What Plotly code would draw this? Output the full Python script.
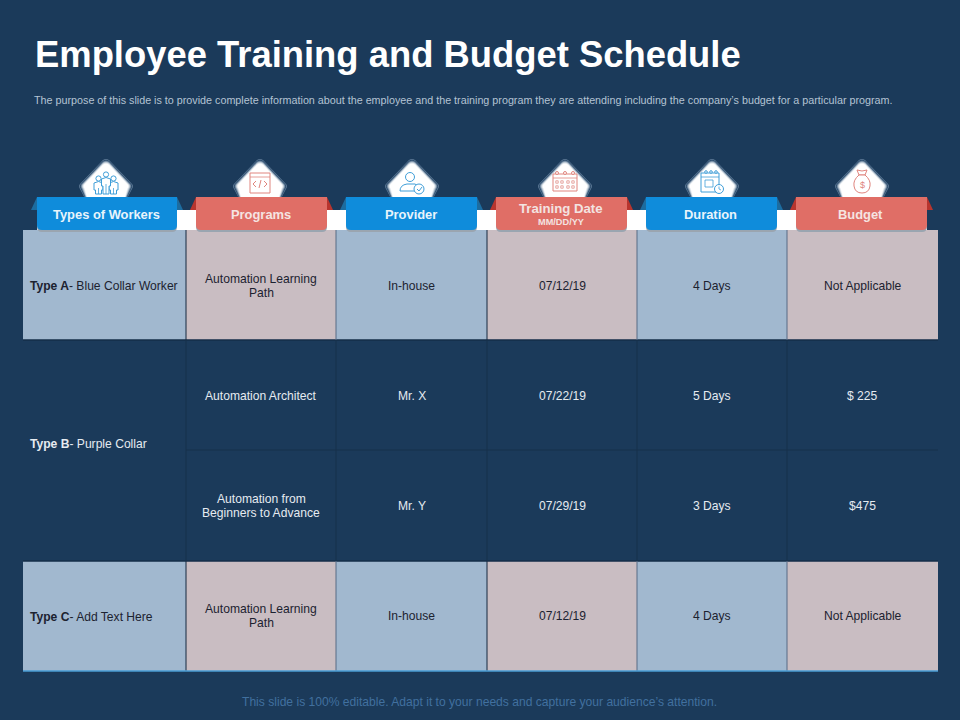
import plotly.graph_objects as go

title = "Employee Training and Budget Schedule"
subtitle = ("The purpose of this slide is to provide complete information about the employee and the training "
            "program they are attending including the company\u2019s budget for a particular program.")
footer = "This slide is 100% editable. Adapt it to your needs and capture your audience\u2019s attention."

headers = ["Types of Workers", "Programs", "Provider", "Training Date", "Duration", "Budget"]
header_sub = "MM/DD/YY"

workers = ["<b>Type A</b>- Blue Collar Worker", "<b>Type B</b>- Purple Collar", "<b>Type C</b>- Add Text Here"]
programs = ["Automation Learning<br>Path", "Automation Architect",
            "Automation from<br>Beginners to Advance", "Automation Learning<br>Path"]
providers = ["In-house", "Mr. X", "Mr. Y", "In-house"]
dates = ["07/12/19", "07/22/19", "07/29/19", "07/12/19"]
durations = ["4 Days", "5 Days", "3 Days", "4 Days"]
budgets = ["Not Applicable", "$ 225", "$475", "Not Applicable"]

BG = "#1b3a5a"
BLUE = "#0f8cdb"
RED = "#e06e66"
CELL_BLUE = "#a1b8cf"
CELL_PINK = "#c9bdc2"
LINE = "#16304b"
ICON_BLUE = "#3f9ed8"
ICON_RED = "#e0857e"

col_x = [23, 186, 336, 487, 637, 787, 938]
row_y = [230, 340, 450, 561, 671]
rib_x = [(37, 177), (196, 327), (346, 477), (496, 627), (646, 777), (796, 927)]
dia_x = [106, 260, 412, 565, 712, 862]

shapes = []
annotations = []


def rect(x0, y0, x1, y1, fill, line=None, width=0):
    shapes.append(dict(type="rect", x0=x0, y0=y0, x1=x1, y1=y1, fillcolor=fill,
                       line=dict(color=line or fill, width=width)))


def path(d, fill="rgba(0,0,0,0)", line="rgba(0,0,0,0)", width=1.0):
    shapes.append(dict(type="path", path=d, fillcolor=fill, line=dict(color=line, width=width)))


def seg(x0, y0, x1, y1, color=LINE, width=1.0):
    shapes.append(dict(type="line", x0=x0, y0=y0, x1=x1, y1=y1, line=dict(color=color, width=width)))


def circle(cx, cy, r, color, width=1.0, fill="white"):
    shapes.append(dict(type="circle", x0=cx - r, y0=cy - r, x1=cx + r, y1=cy + r, fillcolor=fill,
                       line=dict(color=color, width=width)))


def text(x, y, s, size=12.1, color="#1c2230", anchor="center", step=14):
    # annotations add about 2px of padding on the left, and <br> spacing is too wide here
    shift = -2 if anchor == "left" else 0
    lines = s.split("<br>")
    for i, part in enumerate(lines):
        annotations.append(dict(x=x + shift, y=y + (i - (len(lines) - 1) / 2) * step, text=part, showarrow=False,
                                xanchor=anchor, yanchor="middle", align=anchor,
                                font=dict(family="Liberation Sans", size=size, color=color)))


def ribbon_path(x0, y0, x1, y1, r=5):
    return (f"M{x0},{y0} L{x1},{y0} L{x1},{y1 - r} Q{x1},{y1} {x1 - r},{y1} "
            f"L{x0 + r},{y1} Q{x0},{y1} {x0},{y1 - r} Z")


def diamond_path(cx, inset=0):
    top = 158 + inset
    mid = 186
    half = 28 - inset
    return (f"M{cx - 3},{top + 2} Q{cx},{top} {cx + 3},{top + 2} L{cx + half - 2},{mid - 2} "
            f"Q{cx + half},{mid} {cx + half - 2},{mid + 3} L{cx + 16},208 L{cx - 16},208 "
            f"L{cx - half + 2},{mid + 3} Q{cx - half},{mid} {cx - half + 2},{mid - 2} Z")


def icon_people(c):
    for dx, top in [(-7.5, 176), (7.5, 176), (0, 172)]:
        circle(c + dx, top + 2.5, 2.6, ICON_BLUE)
        path(f"M{c + dx - 4.5},{top + 7} Q{c + dx},{top + 4} {c + dx + 4.5},{top + 7} L{c + dx + 4.5},{top + 14} "
             f"L{c + dx + 3},{top + 14} L{c + dx + 3},194 L{c + dx - 3},194 L{c + dx - 3},{top + 14} "
             f"L{c + dx - 4.5},{top + 14} Z", line=ICON_BLUE, fill="white")
        seg(c + dx, top + 12, c + dx, 194, ICON_BLUE, 0.8)


def icon_code(c):
    rect(c - 10, 173, c + 10, 193, "white", ICON_RED, 1)
    seg(c - 10, 177, c + 10, 177, ICON_RED, 0.8)
    path(f"M{c - 4},181 L{c - 7},184 L{c - 4},187", line=ICON_RED)
    path(f"M{c + 4},181 L{c + 7},184 L{c + 4},187", line=ICON_RED)
    seg(c - 1, 188, c + 1, 180, ICON_RED, 1)


def icon_provider(c):
    circle(c - 2, 177, 4.5, ICON_BLUE)
    path(f"M{c - 12},191 Q{c - 12},185 {c - 5},184 L{c + 3},184 Q{c + 6},185 {c + 6},188 L{c + 3},191 Z",
         line=ICON_BLUE, fill="white")
    circle(c + 7, 189, 5, ICON_BLUE)
    path(f"M{c + 5},189 L{c + 7},191 L{c + 10},187", line=ICON_BLUE)


def icon_calendar(c):
    rect(c - 12, 174, c + 12, 191, "white", ICON_RED, 1)
    seg(c - 12, 178, c + 12, 178, ICON_RED, 0.8)
    for dx in [-8, 0, 8]:
        circle(c + dx, 173, 1.5, ICON_RED)
    for dy in [182, 187]:
        for dx in [-8, -3, 3, 8]:
            rect(c + dx - 1.2, dy - 1.2, c + dx + 1.2, dy + 1.2, "white", ICON_RED, 0.7)


def icon_duration(c):
    rect(c - 11, 173, c + 7, 192, "white", ICON_BLUE, 1)
    seg(c - 11, 177, c + 7, 177, ICON_BLUE, 0.8)
    for dx in [-6, -1, 4]:
        circle(c + dx, 172, 1.3, ICON_BLUE)
    rect(c - 7, 180, c + 1, 187, "white", ICON_BLUE, 0.8)
    circle(c + 7, 189, 4.5, ICON_BLUE)
    path(f"M{c + 7},186.5 L{c + 7},189 L{c + 9},190", line=ICON_BLUE, width=0.8)


def icon_bag(c):
    path(f"M{c - 5},170 Q{c},172 {c + 5},170 L{c + 3},175 L{c - 3},175 Z", line=ICON_RED, fill="white")
    path(f"M{c - 3},175 Q{c - 9},180 {c - 8},186 Q{c - 7},193 {c},193 Q{c + 7},193 {c + 8},186 "
         f"Q{c + 9},180 {c + 3},175 Z", line=ICON_RED, fill="white")
    annotations.append(dict(x=c, y=185, text="$", showarrow=False,
                            font=dict(family="Liberation Sans", size=9, color=ICON_RED)))


# header band behind the ribbons
rect(37, 210, 927, 232, "white")

# table cells
for r in [0, 3]:
    for c in range(6):
        rect(col_x[c], row_y[r], col_x[c + 1], row_y[r + 1], CELL_BLUE if c % 2 == 0 else CELL_PINK)
seg(col_x[1], row_y[2], col_x[6], row_y[2], LINE, 1)
seg(col_x[0], row_y[1], col_x[6], row_y[1], "#152e49", 1.5)
seg(col_x[0], row_y[3], col_x[6], row_y[3], "#152e49", 1.5)
for i, x in enumerate(col_x[1:-1]):
    light_line = "#14293f" if i in (0, 2) else "#566b85"
    seg(x, row_y[1], x, row_y[3], LINE, 1)
    seg(x, row_y[0], x, row_y[1], light_line, 1)
    seg(x, row_y[3], x, row_y[4], light_line, 1)
seg(col_x[0], row_y[4], col_x[6], row_y[4], "#4a9ed6", 1.5)

# icon diamonds, layered for the soft edge
icons = [icon_people, icon_code, icon_provider, icon_calendar, icon_duration, icon_bag]
layers = [(0, "#5f7b97"), (0.8, "#2f4f70"), (1.8, "#7088a0"), (2.8, "#b5c3d0"), (3.8, "#e6ebf0"), (4.8, "white")]
for c, draw in zip(dia_x, icons):
    for inset, fill in layers:
        path(diamond_path(c, inset), fill=fill)
    draw(c)

# ribbons
for i, (x0, x1) in enumerate(rib_x):
    main = BLUE if i % 2 == 0 else RED
    ear = "#1d6c9f" if i % 2 == 0 else "#b8352e"
    path(f"M{x0 - 6},210 L{x0},197 L{x0 + 6},210 Z", fill=ear)
    path(f"M{x1 - 6},210 L{x1},197 L{x1 + 6},210 Z", fill=ear)
    path(ribbon_path(x0, 199, x1, 232), fill="#9aa5b0")
    path(ribbon_path(x0, 197, x1, 230), fill=main)
    cx = (x0 + x1) / 2 - 1
    if headers[i] == "Training Date":
        text(cx, 208, f"<b>{headers[i]}</b>", size=13.2, color="#f3e3e1")
        text(cx, 222, f"<b>{header_sub}</b>", size=9.2, color="#f3e3e1")
    else:
        text(cx, 214, f"<b>{headers[i]}</b>", size=12.9, color="#e8f4fb" if i % 2 == 0 else "#f5e4e2")

# table text
mid_y = [(row_y[i] + row_y[i + 1]) / 2 + 0.7 for i in range(3)] + [616]
text(30, mid_y[0], workers[0], anchor="left")
text(30, 444, workers[1], color="#e6ebf1", anchor="left")
text(30, mid_y[3] + 1, workers[2], anchor="left")
columns = [programs, providers, dates, durations, budgets]
for c, values in enumerate(columns):
    cx = (col_x[c + 1] + col_x[c + 2]) / 2
    for r, value in enumerate(values):
        text(cx, mid_y[r], value, color="#1c2230" if r in (0, 3) else "#e6ebf1")

# slide text
text(35, 54, f"<b>{title}</b>", size=36.4, color="white", anchor="left")
text(34, 100, subtitle, size=10.76, color="#b4c3d3", anchor="left")
text(479, 702, footer, size=12.1, color="#41709f")

fig = go.Figure()
fig.update_layout(
    width=960, height=720, margin=dict(l=0, r=0, t=0, b=0),
    paper_bgcolor=BG, plot_bgcolor=BG, showlegend=False,
    xaxis=dict(range=[0, 960], visible=False, fixedrange=True),
    yaxis=dict(range=[720, 0], visible=False, fixedrange=True),
    shapes=shapes, annotations=annotations,
)
# the default page has a body margin that would shift the slide
fig.write_html("out.html", config={"displayModeBar": False},
               post_script="document.body.style.margin='0';document.body.style.overflow='hidden';")
